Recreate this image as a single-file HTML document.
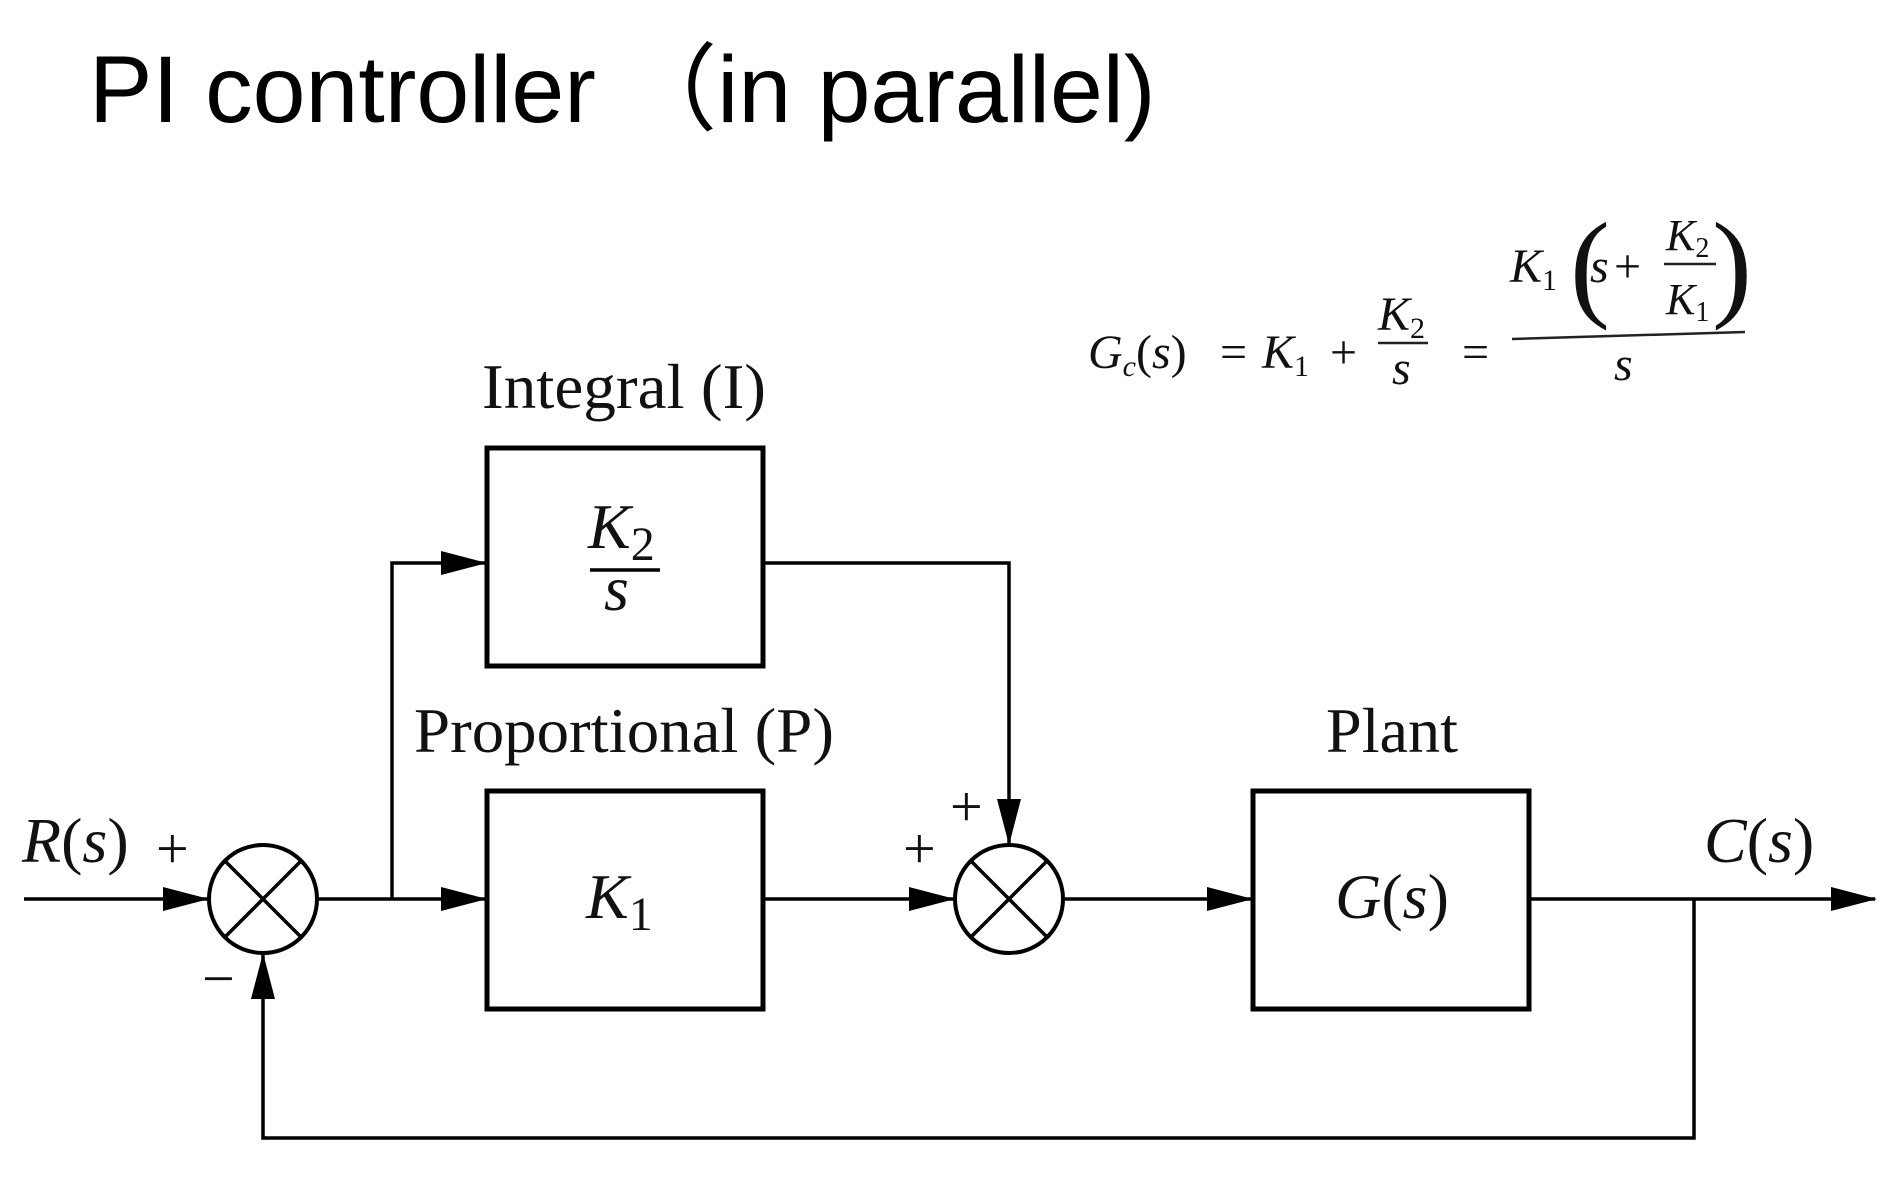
<!DOCTYPE html>
<html><head><meta charset="utf-8"><style>
html,body{margin:0;padding:0;background:#fff;}
svg{display:block;}
.t{font-family:"Liberation Serif",serif;fill:#111;}
.i{font-style:italic;}
</style></head><body>
<svg width="1897" height="1196" viewBox="0 0 1897 1196" xmlns="http://www.w3.org/2000/svg">
<text x="89" y="122" font-family="Liberation Sans, Noto Sans CJK SC, sans-serif" font-size="95" fill="#000">PI controller （in parallel)</text>

<!-- equation -->
<g class="t" font-size="48">
<text x="1088" y="368" class="i">G<tspan font-size="30" dy="8">c</tspan><tspan dy="-8" font-style="normal">(</tspan>s<tspan font-style="normal">)</tspan></text>
<text x="1220" y="368">=</text>
<text x="1262" y="368" class="i">K<tspan font-size="30" dy="8" font-style="normal">1</tspan></text>
<text x="1330" y="368">+</text>
<text x="1378" y="330" class="i">K<tspan font-size="30" dy="8" font-style="normal">2</tspan></text>
<line x1="1378" y1="343" x2="1428" y2="343" stroke="#222" stroke-width="2.5"/>
<text x="1392" y="384" class="i">s</text>
<text x="1462" y="368">=</text>
<line x1="1512" y1="339" x2="1745" y2="332" stroke="#222" stroke-width="2.5"/>
<text x="1510" y="282" class="i">K<tspan font-size="30" dy="8" font-style="normal">1</tspan></text>
<text x="1570" y="305" font-size="120">(</text>
<text x="1590" y="282" class="i">s</text>
<text x="1614" y="282">+</text>
<text x="1666" y="250" class="i" font-size="44">K<tspan font-size="28" dy="7" font-style="normal">2</tspan></text>
<line x1="1664" y1="264" x2="1716" y2="264" stroke="#222" stroke-width="2.5"/>
<text x="1666" y="314" class="i" font-size="44">K<tspan font-size="28" dy="7" font-style="normal">1</tspan></text>
<text x="1712" y="305" font-size="120">)</text>
<text x="1614" y="380" class="i">s</text>
</g>

<g stroke="#000" fill="none">
<rect x="487" y="448" width="276" height="218" stroke-width="5"/>
<rect x="487" y="791" width="276" height="218" stroke-width="5"/>
<rect x="1253" y="791" width="276" height="218" stroke-width="5"/>
<circle cx="263" cy="899" r="54" stroke-width="4"/>
<circle cx="1009" cy="899" r="54" stroke-width="4"/>
<line x1="225" y1="861" x2="301" y2="937" stroke-width="3.5"/>
<line x1="301" y1="861" x2="225" y2="937" stroke-width="3.5"/>
<line x1="971" y1="861" x2="1047" y2="937" stroke-width="3.5"/>
<line x1="1047" y1="861" x2="971" y2="937" stroke-width="3.5"/>
<g stroke-width="3.5">
<polyline points="24,899 209,899"/>
<polyline points="317,899 487,899"/>
<polyline points="392,899 392,563 487,563"/>
<polyline points="763,563 1009,563 1009,845"/>
<polyline points="763,899 955,899"/>
<polyline points="1063,899 1253,899"/>
<polyline points="1529,899 1875,899"/>
<polyline points="1694,899 1694,1138 263,1138 263,953"/>
</g>
</g>
<g fill="#000">
<polygon points="209,899 163,887 163,911"/>
<polygon points="487,899 441,887 441,911"/>
<polygon points="487,563 441,551 441,575"/>
<polygon points="1009,845 997,799 1021,799"/>
<polygon points="955,899 909,887 909,911"/>
<polygon points="1253,899 1207,887 1207,911"/>
<polygon points="1877,899 1831,887 1831,911"/>
<polygon points="263,953 251,999 275,999"/>
</g>

<g class="t" font-size="64">
<text x="624" y="408" text-anchor="middle" textLength="284" lengthAdjust="spacingAndGlyphs">Integral (I)</text>
<text x="624" y="752" text-anchor="middle" textLength="420" lengthAdjust="spacingAndGlyphs">Proportional (P)</text>
<text x="1392" y="752" text-anchor="middle" textLength="132" lengthAdjust="spacingAndGlyphs">Plant</text>
</g>
<g class="t i" font-size="64">
<text x="588" y="548">K<tspan font-style="normal" font-size="48" dy="12">2</tspan></text>
<line x1="590" y1="570" x2="660" y2="570" stroke="#000" stroke-width="3.5"/>
<text x="604" y="610">s</text>
<text x="586" y="918">K<tspan font-style="normal" font-size="48" dy="12">1</tspan></text>
<text x="1392" y="918" text-anchor="middle">G<tspan font-style="normal">(</tspan>s<tspan font-style="normal">)</tspan></text>
<text x="22" y="862">R<tspan font-style="normal">(</tspan>s<tspan font-style="normal">)</tspan></text>
<text x="1704" y="862">C<tspan font-style="normal">(</tspan>s<tspan font-style="normal">)</tspan></text>
</g>
<g class="t" font-size="58">
<text x="156" y="868">+</text>
<text x="903" y="868">+</text>
<text x="950" y="826">+</text>
<text x="202" y="998">−</text>
</g>
</svg>
</body></html>
